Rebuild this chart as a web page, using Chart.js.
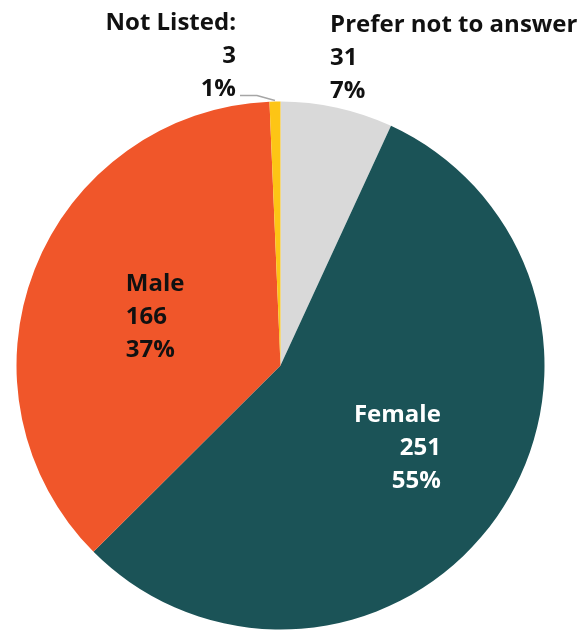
<!DOCTYPE html>
<html>
<head>
<meta charset="utf-8">
<script src="https://cdn.jsdelivr.net/npm/chart.js@4"></script>
<style>
  html, body { margin: 0; padding: 0; background: #ffffff; }
  canvas { display: block; }
</style>
</head>
<body>
<canvas id="gender_chart" width="585" height="630"></canvas>
<script>
const categories = ["Prefer not to answer", "Female", "Male", "Not Listed:"];
const counts = [31, 251, 166, 3];
const percentLabels = ["7%", "55%", "37%", "1%"];
const colors = ["#d9d9d9", "#1b5357", "#f0562a", "#fdc515"];

const FONT = "bold 24px 'Open Sans'";

// where each slice's text goes: inside the slice or outside the rim
const labelStyle = [
    { place: "outside", align: "left", color: "#111111", dx: -7, dy: -10 },
    { place: "inside", align: "right", color: "#ffffff", frac: 0.54 },
    { place: "inside", align: "left", color: "#111111", frac: 0.51 },
    { place: "outside", align: "right", color: "#111111", dx: -39, dy: -6, leader: true }
];

const sliceLabels = {
    id: "sliceLabels",
    afterDatasetsDraw(chart) {
        const c = chart.ctx;
        const meta = chart.getDatasetMeta(0);
        const lineGap = 33;
        c.save();
        c.font = FONT;
        c.textBaseline = "alphabetic";
        meta.data.forEach((arc, i) => {
            const st = labelStyle[i];
            const lines = [categories[i], String(counts[i]), percentLabels[i]];
            const mid = (arc.startAngle + arc.endAngle) / 2;
            c.fillStyle = st.color;
            c.textAlign = st.align;
            if (st.place === "inside") {
                const px = arc.x + Math.cos(mid) * arc.outerRadius * st.frac;
                const py = arc.y + Math.sin(mid) * arc.outerRadius * st.frac;
                const w = Math.max(...lines.map(t => c.measureText(t).width));
                const x = st.align === "left" ? px - w / 2 : px + w / 2;
                const top = py - lineGap * 1.5;
                lines.forEach((t, k) => c.fillText(t, x, top + lineGap * (k + 1) - 9));
            } else {
                const ox = arc.x + Math.cos(mid) * arc.outerRadius;
                const oy = arc.y + Math.sin(mid) * arc.outerRadius;
                const x = ox + st.dx;
                const bottom = oy + st.dy;
                if (st.leader) {
                    c.strokeStyle = "#a6a6a6";
                    c.lineWidth = 1.5;
                    c.beginPath();
                    c.moveTo(ox, oy - 1);
                    c.lineTo(ox - 18, oy - 6);
                    c.lineTo(x + 4, oy - 6);
                    c.stroke();
                }
                lines.forEach((t, k) => c.fillText(t, x, bottom - lineGap * (2 - k)));
            }
        });
        c.restore();
    }
};

let can = document.getElementById("gender_chart");
let ctx = can.getContext("2d");
let chart = new Chart(ctx, {
    type: "pie",
    data: {
        labels: categories,
        datasets: [{
            data: counts,
            backgroundColor: colors,
            borderWidth: 0
        }]
    },
    options: {
        responsive: false,
        animation: false,
        layout: {
            padding: { top: 101.5, bottom: 0.5, left: 16.5, right: 40.5 }
        },
        plugins: {
            legend: { display: false },
            tooltip: { enabled: false }
        }
    },
    plugins: [sliceLabels]
});
</script>
</body>
</html>
